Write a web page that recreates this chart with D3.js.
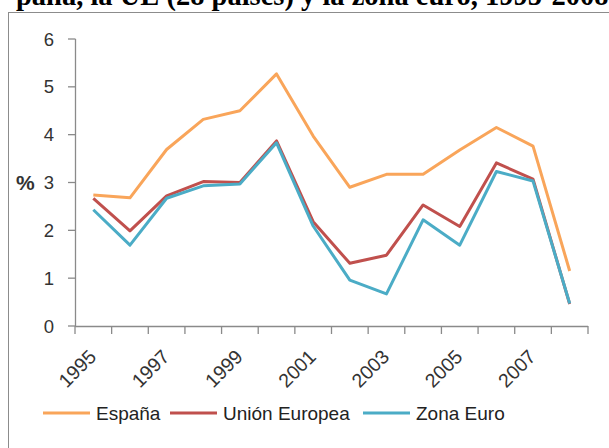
<!DOCTYPE html>
<html>
<head>
<meta charset="utf-8">
<script src="https://cdn.jsdelivr.net/npm/d3@7"></script>
<style>
  body { margin: 0; background: #fff; }
  svg { display: block; }
</style>
</head>
<body>
<script>
var years = [1995, 1996, 1997, 1998, 1999, 2000, 2001, 2002, 2003, 2004, 2005, 2006, 2007, 2008];
var espana = [2.74, 2.68, 3.69, 4.32, 4.50, 5.27, 3.97, 2.90, 3.17, 3.17, 3.68, 4.15, 3.76, 1.15];
var unionEuropea = [2.67, 1.99, 2.72, 3.02, 3.00, 3.87, 2.18, 1.31, 1.48, 2.53, 2.08, 3.41, 3.07, 0.46];
var zonaEuro = [2.43, 1.69, 2.67, 2.93, 2.97, 3.83, 2.09, 0.96, 0.67, 2.22, 1.69, 3.23, 3.03, 0.47];
var yTicks = [0, 1, 2, 3, 4, 5, 6];
var xLabels = [1995, 1997, 1999, 2001, 2003, 2005, 2007];
var seriesNames = ["España", "Unión Europea", "Zona Euro"];
var titleText = "paña, la UE (28 países) y la zona euro, 1995-2008";

var width = 609, height = 448;
var colors = ["#F9A55A", "#C0504D", "#4BACC6"];
var axisColor = "#8a8a8a";
var textColor = "#333";

var svg = d3.select("body").append("svg")
    .attr("width", width)
    .attr("height", height);

// title, cut off at the top like in the source page
svg.append("text")
    .attr("x", 16)
    .attr("y", 5)
    .attr("font-family", "Liberation Serif, Times New Roman, serif")
    .attr("font-weight", "bold")
    .attr("font-size", 28.5)
    .attr("fill", "#000")
    .text(titleText);

// frame
svg.append("rect")
    .attr("x", 8.5)
    .attr("y", 12.5)
    .attr("width", 640)
    .attr("height", 460)
    .attr("fill", "none")
    .attr("stroke", "#8c8c8c")
    .attr("stroke-width", 1);

var x = d3.scaleBand().domain(years).range([75, 588]).padding(0);
var y = d3.scaleLinear().domain([0, 6]).range([326, 39]);

var font = "Liberation Sans, Arial, sans-serif";

// y axis
var gy = svg.append("g");
gy.append("line")
    .attr("x1", 75.5).attr("x2", 75.5)
    .attr("y1", y(6)).attr("y2", y(0))
    .attr("stroke", axisColor).attr("stroke-width", 1.3);
gy.selectAll("line.tick")
    .data(yTicks)
    .join("line")
    .attr("class", "tick")
    .attr("x1", 68).attr("x2", 75.5)
    .attr("y1", d => y(d)).attr("y2", d => y(d))
    .attr("stroke", axisColor).attr("stroke-width", 1.3);
gy.selectAll("text")
    .data(yTicks)
    .join("text")
    .attr("x", 54)
    .attr("y", d => y(d))
    .attr("dy", "0.36em")
    .attr("text-anchor", "end")
    .attr("font-family", font)
    .attr("font-size", 18.5)
    .attr("fill", textColor)
    .text(d => d);

svg.append("text")
    .attr("x", 16)
    .attr("y", y(3))
    .attr("dy", "0.36em")
    .attr("font-family", font)
    .attr("font-size", 21)
    .attr("font-weight", "bold")
    .attr("fill", textColor)
    .text("%");

// x axis
var gx = svg.append("g");
gx.append("line")
    .attr("x1", x.range()[0]).attr("x2", x.range()[1])
    .attr("y1", y(0) + 0.5).attr("y2", y(0) + 0.5)
    .attr("stroke", axisColor).attr("stroke-width", 1.3);
var bounds = years.map(d => x(d)).concat([x.range()[1]]);
gx.selectAll("line.tick")
    .data(bounds)
    .join("line")
    .attr("class", "tick")
    .attr("x1", d => d).attr("x2", d => d)
    .attr("y1", y(0)).attr("y2", y(0) + 8)
    .attr("stroke", axisColor).attr("stroke-width", 1.3);
gx.selectAll("text")
    .data(xLabels)
    .join("text")
    .attr("transform", d => `translate(${x(d) + x.bandwidth() / 2 + 4},${y(0) + 32}) rotate(-45)`)
    .attr("text-anchor", "end")
    .attr("font-family", font)
    .attr("font-size", 19.5)
    .attr("fill", textColor)
    .text(d => d);

// lines
var allSeries = [espana, unionEuropea, zonaEuro];
var line = d3.line()
    .x((d, i) => x(years[i]) + x.bandwidth() / 2)
    .y(d => y(d));

svg.append("g")
    .selectAll("path")
    .data(allSeries)
    .join("path")
    .attr("d", line)
    .attr("fill", "none")
    .attr("stroke", (d, i) => colors[i])
    .attr("stroke-width", 3)
    .attr("stroke-linejoin", "round");

// legend
var legendX = [43, 170, 363];
var lg = svg.append("g")
    .selectAll("g")
    .data(seriesNames)
    .join("g")
    .attr("transform", (d, i) => `translate(${legendX[i]},413)`);
lg.append("line")
    .attr("x1", 0).attr("x2", 47)
    .attr("y1", 0).attr("y2", 0)
    .attr("stroke", (d, i) => colors[i])
    .attr("stroke-width", 3);
lg.append("text")
    .attr("x", 53)
    .attr("y", 0)
    .attr("dy", "0.36em")
    .attr("font-family", font)
    .attr("font-size", 19)
    .attr("fill", "#222")
    .text(d => d);
</script>
</body>
</html>
